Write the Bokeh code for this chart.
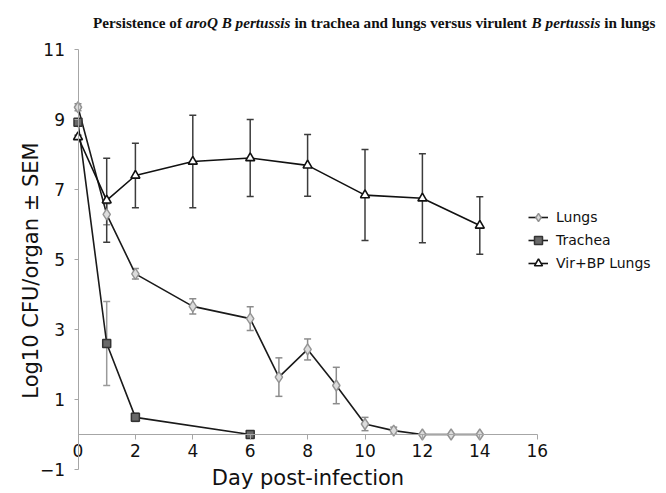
from bokeh.plotting import figure
from bokeh.models import (ColumnDataSource, Whisker, TeeHead, LinearAxis, FixedTicker,
                          Range1d, Label, Legend, LegendItem)
from bokeh.embed import file_html
from bokeh.resources import INLINE
import math

# ---- data ----
lungs_days = [0, 1, 2, 4, 6, 7, 8, 9, 10, 11, 12, 13, 14]
lungs_vals = [9.35, 6.29, 4.59, 3.66, 3.31, 1.64, 2.43, 1.40, 0.30, 0.11, 0.0, 0.0, 0.0]
lungs_sem = [0.10, 0.30, 0.15, 0.22, 0.34, 0.55, 0.30, 0.52, 0.19, 0.10, 0.0, 0.0, 0.0]

trachea_days = [0, 1, 2, 6]
trachea_vals = [8.92, 2.60, 0.49, 0.0]
trachea_sem = [0.10, 1.20, 0.12, 0.0]

vir_days = [0, 1, 2, 4, 6, 8, 10, 12, 14]
vir_vals = [8.50, 6.69, 7.40, 7.80, 7.90, 7.69, 6.84, 6.75, 5.97]
vir_sem = [0.05, 1.20, 0.92, 1.32, 1.10, 0.88, 1.30, 1.27, 0.82]

x_ticks = [0, 2, 4, 6, 8, 10, 12, 14, 16]
y_ticks = [-1, 1, 3, 5, 7, 9, 11]

title_parts = [("Persistence of", "bold"), ("aroQ B pertussis", "bold italic"),
               ("in trachea and lungs versus virulent", "bold"), ("B pertussis", "bold italic"),
               ("in lungs", "bold")]

W, H = 666, 493
SANS = "DejaVu Sans"

# frame covers the whole canvas; day d -> 77.5 + 28.7 d px, value v -> 434 - 35 v px
PXD, X0 = 28.7, 77.5
PXV, Y0 = 35.0, 434.0
p = figure(width=W, height=H, output_backend="svg", toolbar_location=None,
           x_range=Range1d(-X0 / PXD, (W - X0) / PXD),
           y_range=Range1d((Y0 - H) / PXV, Y0 / PXV),
           x_axis_location=None, y_axis_location=None,
           min_border_left=0, min_border_right=0, min_border_top=0, min_border_bottom=0)
p.grid.visible = False
p.outline_line_color = None
p.background_fill_color = "white"
p.border_fill_color = "white"

AXC = "#a6a6a6"
yax = LinearAxis(fixed_location=0, ticker=FixedTicker(ticks=y_ticks), bounds=(-1, 11))
yax.axis_line_color = AXC
yax.major_tick_line_color = AXC
yax.minor_tick_line_color = None
yax.major_tick_out = 4
yax.major_tick_in = 0
yax.major_label_standoff = 9
yax.major_label_text_font = SANS
yax.major_label_text_font_size = "17px"
yax.major_label_text_color = "#111111"
p.add_layout(yax, "left")

xax = LinearAxis(fixed_location=0, ticker=FixedTicker(ticks=x_ticks), bounds=(0, 16))
xax.axis_line_color = AXC
xax.major_tick_line_color = AXC
xax.minor_tick_line_color = None
xax.major_tick_out = 5
xax.major_tick_in = 0
xax.major_label_standoff = 4
xax.major_label_text_font = SANS
xax.major_label_text_font_size = "17px"
xax.major_label_text_color = "#111111"
xax.axis_label = "Day post-infection"
xax.axis_label_text_font = SANS
xax.axis_label_text_font_size = "21px"
xax.axis_label_text_font_style = "normal"
xax.axis_label_standoff = 6
xax.axis_label_text_color = "#111111"
p.add_layout(xax, "below")


def add_err(days, vals, sem, color):
    d = [a for a, s in zip(days, sem) if s > 0]
    v = [b for b, s in zip(vals, sem) if s > 0]
    e = [s for s in sem if s > 0]
    src = ColumnDataSource(dict(x=d, upper=[a + b for a, b in zip(v, e)],
                                lower=[a - b for a, b in zip(v, e)]))
    w = Whisker(source=src, base="x", upper="upper", lower="lower", dimension="height",
                line_color=color, line_width=1.5,
                upper_head=TeeHead(size=7, line_color=color, line_width=1.5),
                lower_head=TeeHead(size=7, line_color=color, line_width=1.5))
    p.add_layout(w)


add_err(lungs_days, lungs_vals, lungs_sem, "#8c8c8c")
add_err(trachea_days, trachea_vals, trachea_sem, "#9a9a9a")
add_err(vir_days, vir_vals, vir_sem, "#3c3c3c")

ls = ColumnDataSource(dict(x=lungs_days, y=lungs_vals))
ts = ColumnDataSource(dict(x=trachea_days, y=trachea_vals))
vs = ColumnDataSource(dict(x=vir_days, y=vir_vals))

l1 = p.line("x", "y", source=ls, line_color="#1a1a1a", line_width=1.6)
m1 = p.scatter("x", "y", source=ls, marker="diamond", size=11,
               fill_color="#dcdcdc", line_color="#939393", line_width=1.4)
l2 = p.line("x", "y", source=ts, line_color="#1a1a1a", line_width=1.6)
m2 = p.scatter("x", "y", source=ts, marker="square", size=8,
               fill_color="#6a6a6a", line_color="#333333", line_width=1.5)
l3 = p.line("x", "y", source=vs, line_color="#111111", line_width=1.6)
m3 = p.scatter("x", "y", source=vs, marker="triangle", size=9,
               fill_color="white", line_color="#111111", line_width=1.6)

legend = Legend(items=[LegendItem(label="Lungs", renderers=[l1, m1]),
                       LegendItem(label="Trachea", renderers=[l2, m2]),
                       LegendItem(label="Vir+BP Lungs", renderers=[l3, m3])],
                location=(528, H - 273))
legend.background_fill_alpha = 0
legend.border_line_color = None
legend.label_text_font = SANS
legend.label_text_font_size = "14px"
legend.label_text_color = "#111111"
legend.glyph_width = 20
legend.label_standoff = 8
legend.spacing = 3
legend.padding = 10
legend.margin = 0
p.add_layout(legend)

# title, made of roman and italic runs
TFS = 15.2
k = TFS / 15.0
widths = [91.6 * k, 103.4 * k, 234.1 * k, 67.9 * k, 54.2 * k]
space = 3.75 * k
cur = 92.5
xs = []
for i, wdt in enumerate(widths):
    xs.append(cur)
    cur += wdt + (space if i in (1, 3) else 0)
for (txt, style), xx in zip(title_parts, xs):
    p.add_layout(Label(x=xx, y=H - 22, x_units="screen", y_units="screen", text=txt,
                       text_font="Liberation Serif", text_font_size=f"{TFS}px",
                       text_font_style=style, text_color="#111111",
                       text_align="left", text_baseline="alphabetic"))

p.add_layout(Label(x=30, y=H - 270, x_units="screen", y_units="screen",
                   text="Log10 CFU/organ \u00b1 SEM", angle=math.pi / 2,
                   text_font=SANS, text_font_size="21px", text_color="#111111",
                   text_align="center", text_baseline="middle"))

open("out.html", "w").write(file_html(p, INLINE))
